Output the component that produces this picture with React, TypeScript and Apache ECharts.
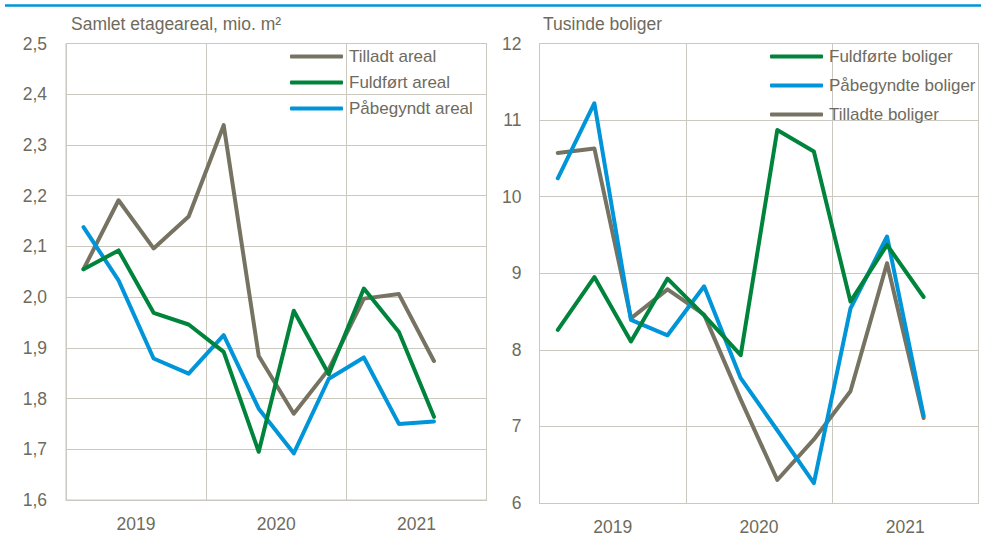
import React, { useEffect, useRef } from "react";
import * as echarts from "echarts";

const quarters = ["2019K1","2019K2","2019K3","2019K4","2020K1","2020K2","2020K3","2020K4","2021K1","2021K2","2021K3","2021K4"];
const years = ["2019", "2020", "2021"];

// Left panel: mio. m2
const tilladtAreal = [2.055, 2.191, 2.096, 2.159, 2.339, 1.884, 1.770, 1.858, 1.997, 2.006, 1.874];
const fuldfoertAreal = [2.055, 2.092, 1.969, 1.946, 1.892, 1.695, 1.973, 1.848, 2.017, 1.931, 1.764];
const paabegyndtAreal = [2.138, 2.033, 1.879, 1.849, 1.925, 1.780, 1.692, 1.839, 1.881, 1.750, 1.755];

// Right panel: tusinde boliger
const fuldfoerteBoliger = [8.26, 8.95, 8.11, 8.93, 8.45, 7.93, 10.87, 10.59, 8.63, 9.37, 8.69];
const paabegyndteBoliger = [10.24, 11.22, 8.39, 8.19, 8.83, 7.63, 6.95, 6.26, 8.54, 9.48, 7.14];
const tilladteBoliger = [10.57, 10.63, 8.41, 8.79, 8.46, 7.35, 6.30, 6.83, 7.46, 9.13, 7.11];

const GRAY = "#767362";
const GREEN = "#00843c";
const BLUE = "#0095d8";
const TEXT = "#6e6b5e";
const GRID = "#cbc9bf";
const FONT = "'Liberation Sans', Arial, sans-serif";

export default function App() {
  const ref = useRef<HTMLDivElement>(null);
  useEffect(() => {
    if (!ref.current) return;
    const chart = echarts.init(ref.current, undefined, { renderer: "svg" });
    const grids = [
      { left: 66, top: 43.5, width: 420.5, height: 456.5 },
      { left: 539.5, top: 43.5, width: 439, height: 460 },
    ];
    const dataX = (gi: number) => ({
      type: "category", gridIndex: gi, data: quarters, boundaryGap: true,
      axisLine: { show: true, lineStyle: { color: GRID, width: 1 } },
      axisTick: { show: false }, axisLabel: { show: false }, splitLine: { show: false },
    });
    const yearX = (gi: number) => ({
      type: "category", gridIndex: gi, data: years, boundaryGap: true, position: "bottom",
      axisLine: { show: false }, axisTick: { show: false },
      axisLabel: { show: true, color: TEXT, fontSize: 17.5, fontFamily: FONT, margin: 15 },
      splitLine: { show: true, interval: 0, lineStyle: { color: GRID, width: 1 } },
    });
    const line = (name: string, data: number[], color: string, xi: number, yi: number) => ({
      name, type: "line", data, xAxisIndex: xi, yAxisIndex: yi, symbol: "none",
      lineStyle: { color, width: 4, cap: "round", join: "round" }, itemStyle: { color },
    });
    const legendBase = {
      orient: "vertical", itemWidth: 53, itemHeight: 4, icon: "roundRect",
      textStyle: { color: TEXT, fontSize: 17, fontFamily: FONT, padding: [0, 0, 0, 1] },
      padding: 0,
    };
    chart.setOption({
      animation: false,
      backgroundColor: "#ffffff",
      textStyle: { fontFamily: FONT },
      title: [
        { text: "Samlet etageareal, mio. m²", left: 71, top: 15, padding: 0,
          textStyle: { color: TEXT, fontSize: 17.5, fontWeight: "normal", fontFamily: FONT } },
        { text: "Tusinde boliger", left: 543, top: 15, padding: 0,
          textStyle: { color: TEXT, fontSize: 17.5, fontWeight: "normal", fontFamily: FONT } },
      ],
      graphic: [
        { type: "line", shape: { x1: 5, y1: 5.5, x2: 981, y2: 5.5 }, style: { stroke: BLUE, lineWidth: 2.5 } },
        { type: "rect", shape: { x: 66, y: 43.5, width: 420.5, height: 456.5 }, style: { fill: "none", stroke: GRID, lineWidth: 1 }, z: 1 },
        { type: "rect", shape: { x: 539.5, y: 43.5, width: 439, height: 460 }, style: { fill: "none", stroke: GRID, lineWidth: 1 }, z: 1 },
      ],
      legend: [
        { ...legendBase, left: 290, top: 48, itemGap: 9, data: ["Tilladt areal", "Fuldført areal", "Påbegyndt areal"] },
        { ...legendBase, left: 770, top: 48, itemGap: 12, data: ["Fuldførte boliger", "Påbegyndte boliger", "Tilladte boliger"] },
      ],
      grid: grids,
      xAxis: [dataX(0), yearX(0), dataX(1), yearX(1)],
      yAxis: [
        {
          type: "value", gridIndex: 0, min: 1.6, max: 2.5, interval: 0.1,
          axisLine: { show: false }, axisTick: { show: false },
          axisLabel: { color: TEXT, fontSize: 17.5, fontFamily: FONT, margin: 19,
            formatter: (v: number) => v.toFixed(1).replace(".", ",") },
          splitLine: { show: true, lineStyle: { color: GRID, width: 1 } },
        },
        {
          type: "value", gridIndex: 1, min: 6, max: 12, interval: 1,
          axisLine: { show: false }, axisTick: { show: false },
          axisLabel: { color: TEXT, fontSize: 17.5, fontFamily: FONT, margin: 18 },
          splitLine: { show: true, lineStyle: { color: GRID, width: 1 } },
        },
      ],
      series: [
        line("Tilladt areal", tilladtAreal, GRAY, 0, 0),
        line("Påbegyndt areal", paabegyndtAreal, BLUE, 0, 0),
        line("Fuldført areal", fuldfoertAreal, GREEN, 0, 0),
        line("Tilladte boliger", tilladteBoliger, GRAY, 2, 1),
        line("Påbegyndte boliger", paabegyndteBoliger, BLUE, 2, 1),
        line("Fuldførte boliger", fuldfoerteBoliger, GREEN, 2, 1),
      ],
    });
    return () => chart.dispose();
  }, []);
  return <div ref={ref} style={{ width: 981, height: 536, position: "absolute", left: 0, top: 0 }} />;
}
